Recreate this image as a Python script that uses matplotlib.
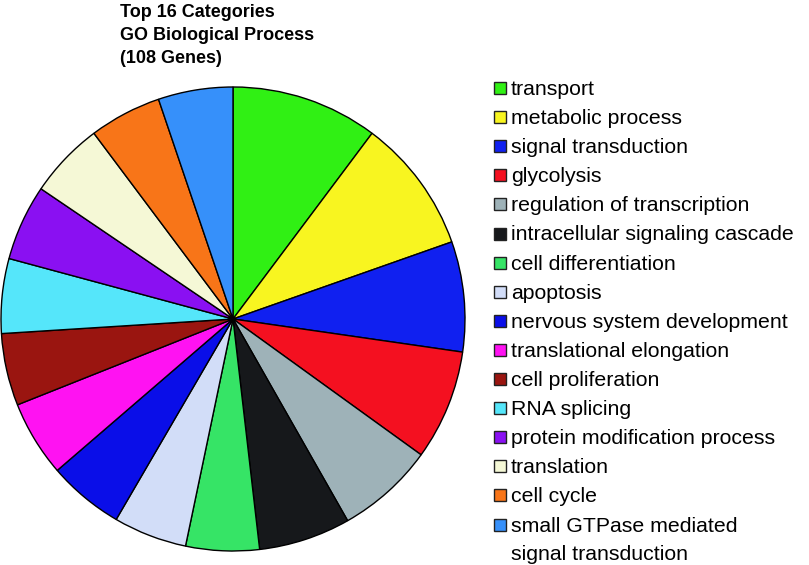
import numpy as np
import matplotlib
matplotlib.use('Agg')
import matplotlib.pyplot as plt
from matplotlib.patches import Rectangle

plt.rcParams['font.family'] = ['Liberation Sans', 'DejaVu Sans']

# GO categories, gene counts and slice colours
categories = ['transport', 'metabolic process', 'signal transduction', 'glycolysis',
              'regulation of transcription', 'intracellular signaling cascade',
              'cell differentiation', 'apoptosis', 'nervous system development',
              'translational elongation', 'cell proliferation', 'RNA splicing',
              'protein modification process', 'translation', 'cell cycle',
              'small GTPase mediated\nsignal transduction']
counts = [12, 11, 9, 9, 8, 7.5, 6, 6, 6.2, 6.2, 5.9, 6.1, 6.2, 6.2, 5.9, 6.1]
colors = ['#30f014', '#f8f520', '#1020f0', '#f41020', '#9eb2b8', '#16181b',
          '#36e466', '#d2ddf8', '#0a0ee8', '#ff12f2', '#9a1510', '#55e6fa',
          '#8a10f2', '#f5f8d6', '#f87518', '#3690fa']
title_lines = ['Top 16 Categories', 'GO Biological Process', '(108 Genes)']

W, H = 809, 565
fig = plt.figure(figsize=(W / 100, H / 100), dpi=100)

# pie: centre (233, 319) px, radius 232 px
cx, cy, r = 233, 319, 232
lim = 1.01
size = 2 * r * lim
ax = fig.add_axes([(cx - size / 2) / W, (H - cy - size / 2) / H, size / W, size / H])
ax.pie(counts, colors=colors, startangle=90, counterclock=False,
       wedgeprops=dict(edgecolor='black', linewidth=1.0))
ax.set_xlim(-lim, lim)
ax.set_ylim(-lim, lim)
ax.set_aspect('equal')

# title, three bold lines
for i, line in enumerate(title_lines):
    fig.text(120 / W, 1 - (17 + 23 * i) / H, line, fontsize=13, fontweight='bold',
             va='baseline', ha='left')

# legend drawn by hand so the square sits on the first text line
y0, step = 88, 29.1
for i, (lab, col) in enumerate(zip(categories, colors)):
    yc = y0 + step * i
    fig.patches.append(Rectangle((494 / W, 1 - (yc + 6) / H), 12 / W, 12 / H,
                                 transform=fig.transFigure, facecolor=col,
                                 edgecolor='#222222', linewidth=1.0))
    for j, part in enumerate(lab.split('\n')):
        fig.text(511 / W, 1 - (yc + 7 + 28 * j) / H, part, fontsize=15.3,
                 va='baseline', ha='left')

fig.savefig('out.png', dpi=100)
